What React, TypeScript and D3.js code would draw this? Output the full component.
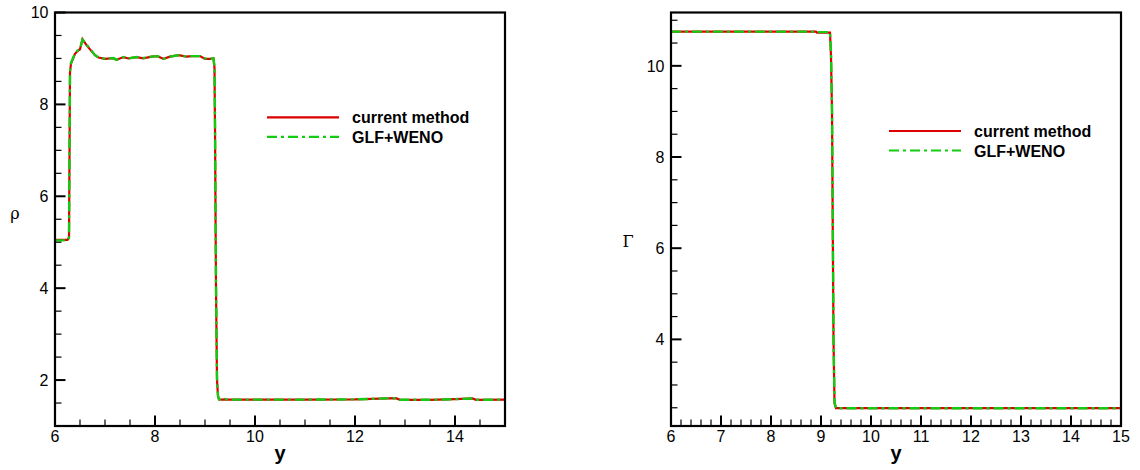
import React from "react";
import * as d3 from "d3";

// ---------- data ----------
const rhoX = [6.0, 6.25, 6.28, 6.3, 6.32, 6.4, 6.45, 6.5, 6.55, 6.63, 6.73, 6.8, 6.87, 7.0, 7.1, 7.17, 7.23, 7.37, 7.47, 7.63, 7.77, 7.93, 8.05, 8.17, 8.3, 8.47, 8.63, 8.73, 8.9, 9.0, 9.1, 9.17, 9.19, 9.2, 9.22, 9.24, 9.26, 9.28, 9.35, 9.4, 9.45, 10.0, 11.0, 12.0, 12.5, 12.82, 12.9, 13.5, 14.0, 14.35, 14.42, 15.0];
const rhoCurrent = [5.05, 5.05, 5.1, 8.7, 8.89, 9.1, 9.16, 9.2, 9.42, 9.29, 9.16, 9.07, 9.02, 8.99, 9.0, 9.0, 8.97, 9.03, 9.0, 9.03, 9.0, 9.04, 9.05, 8.99, 9.04, 9.07, 9.04, 9.05, 9.05, 8.99, 8.99, 9.0, 8.8, 7.5, 4.0, 2.0, 1.65, 1.58, 1.575, 1.58, 1.575, 1.575, 1.575, 1.58, 1.595, 1.605, 1.57, 1.57, 1.585, 1.6, 1.57, 1.575];
const rhoWeno = [5.04, 5.04, 5.1, 8.72, 8.9, 9.11, 9.17, 9.21, 9.41, 9.3, 9.17, 9.07, 9.02, 8.99, 9.0, 9.01, 8.97, 9.03, 9.0, 9.03, 9.01, 9.04, 9.05, 8.99, 9.04, 9.07, 9.04, 9.05, 9.05, 9.0, 8.99, 9.0, 8.82, 7.6, 4.1, 2.05, 1.66, 1.58, 1.57, 1.59, 1.575, 1.575, 1.575, 1.58, 1.595, 1.605, 1.57, 1.57, 1.585, 1.6, 1.57, 1.575];

const gammaX = [6.0, 7.0, 8.0, 8.9, 8.92, 9.18, 9.2, 9.22, 9.25, 9.27, 9.3, 10.0, 11.0, 12.0, 13.0, 14.0, 15.0];
const gammaCurrent = [10.75, 10.75, 10.75, 10.75, 10.73, 10.73, 10.2, 9.0, 4.0, 2.6, 2.49, 2.49, 2.49, 2.49, 2.49, 2.49, 2.49];
const gammaWeno = [10.75, 10.75, 10.75, 10.75, 10.74, 10.74, 10.3, 9.1, 4.1, 2.62, 2.49, 2.49, 2.49, 2.49, 2.49, 2.49, 2.49];

const seriesNames = ["current method", "GLF+WENO"];
const leftXTicks = [6, 8, 10, 12, 14];
const leftYTicks = [2, 4, 6, 8, 10];
const rightXTicks = [6, 7, 8, 9, 10, 11, 12, 13, 14, 15];
const rightYTicks = [4, 6, 8, 10];

const RED = "#dd0000";
const GREEN = "#11cc11";
const FONT = "'Liberation Sans', Arial, Helvetica, sans-serif";

type PanelProps = {
  x0: number;
  x1: number;
  yDomain: [number, number];
  xs: number[];
  a: number[];
  b: number[];
  xTicks: number[];
  xMinorStep: number;
  yTicks: number[];
  yMinorStep: number;
  yLabel: string;
  yLabelPos: [number, number];
  legendX: number;
  legendY: number;
};

function Panel(p: PanelProps) {
  const top = 12.5;
  const bottom = 426;
  const x = d3.scaleLinear().domain([6, 15]).range([p.x0, p.x1]);
  const y = d3.scaleLinear().domain(p.yDomain).range([bottom, top]);
  const line = d3
    .line<number>()
    .x((_, i) => x(p.xs[i]))
    .y((v) => y(v));

  const xMinor = d3.range(6, 15 + 1e-9, p.xMinorStep).filter(
    (v) => !p.xTicks.some((t) => Math.abs(t - v) < 1e-6)
  );
  const yStart = Math.ceil(p.yDomain[0] / p.yMinorStep) * p.yMinorStep;
  const yMinor = d3
    .range(yStart, p.yDomain[1] + 1e-9, p.yMinorStep)
    .filter((v) => !p.yTicks.some((t) => Math.abs(t - v) < 1e-6));

  return (
    <g>
      <path d={line(p.a) || ""} fill="none" stroke={RED} strokeWidth={2.2} />
      <path
        d={line(p.b) || ""}
        fill="none"
        stroke={GREEN}
        strokeWidth={2.4}
        strokeDasharray="10,4,3,4"
      />
      {/* minor ticks */}
      {xMinor.map((v) => (
        <line key={"xm" + v} x1={x(v)} x2={x(v)} y1={bottom} y2={bottom - 6.5} stroke="#000" strokeWidth={1.2} />
      ))}
      {yMinor.map((v) => (
        <line key={"ym" + v} x1={p.x0} x2={p.x0 + 6.5} y1={y(v)} y2={y(v)} stroke="#000" strokeWidth={1.2} />
      ))}
      {p.xTicks.map((v) => (
        <g key={"xt" + v}>
          <line x1={x(v)} x2={x(v)} y1={bottom} y2={bottom - 10.5} stroke="#000" strokeWidth={2} />
          <text x={x(v)} y={442} textAnchor="middle" fontFamily={FONT} fontSize={16}>
            {v}
          </text>
        </g>
      ))}
      {p.yTicks.map((v) => (
        <g key={"yt" + v}>
          <line x1={p.x0} x2={p.x0 + 10.5} y1={y(v)} y2={y(v)} stroke="#000" strokeWidth={2} />
          <text x={p.x0 - 6.5} y={y(v)} dy="0.36em" textAnchor="end" fontFamily={FONT} fontSize={16}>
            {v}
          </text>
        </g>
      ))}
      <rect
        x={p.x0}
        y={top}
        width={p.x1 - p.x0}
        height={bottom - top}
        fill="none"
        stroke="#000"
        strokeWidth={2.2}
      />
      <text
        x={(p.x0 + p.x1) / 2}
        y={460}
        textAnchor="middle"
        fontFamily={FONT}
        fontWeight="bold"
        fontSize={20}
      >
        y
      </text>
      <text
        x={p.yLabelPos[0]}
        y={p.yLabelPos[1]}
        textAnchor="middle"
        fontFamily="'DejaVu Serif', 'Liberation Serif', serif"
        fontSize={16}
      >
        {p.yLabel}
      </text>
      {/* legend */}
      <line x1={p.legendX} x2={p.legendX + 72} y1={p.legendY} y2={p.legendY} stroke={RED} strokeWidth={2.2} />
      <line
        x1={p.legendX}
        x2={p.legendX + 72}
        y1={p.legendY + 19.5}
        y2={p.legendY + 19.5}
        stroke={GREEN}
        strokeWidth={2.2}
        strokeDasharray="10,4,3,4"
      />
      <text x={p.legendX + 85} y={p.legendY + 6} fontFamily={FONT} fontWeight="bold" fontSize={16}>
        {seriesNames[0]}
      </text>
      <text x={p.legendX + 85} y={p.legendY + 25.5} fontFamily={FONT} fontWeight="bold" fontSize={16}>
        {seriesNames[1]}
      </text>
    </g>
  );
}

export default function App() {
  return (
    <svg
      width={1140}
      height={470}
      style={{ position: "absolute", left: 0, top: 0, background: "#fff" }}
    >
      <Panel
        x0={55}
        x1={505}
        yDomain={[1, 10]}
        xs={rhoX}
        a={rhoCurrent}
        b={rhoWeno}
        xTicks={leftXTicks}
        xMinorStep={0.5}
        yTicks={leftYTicks}
        yMinorStep={0.5}
        yLabel="ρ"
        yLabelPos={[15, 219]}
        legendX={267}
        legendY={117.3}
      />
      <Panel
        x0={671}
        x1={1121}
        yDomain={[2.1, 11.17]}
        xs={gammaX}
        a={gammaCurrent}
        b={gammaWeno}
        xTicks={rightXTicks}
        xMinorStep={0.2}
        yTicks={rightYTicks}
        yMinorStep={0.5}
        yLabel="Γ"
        yLabelPos={[628, 247]}
        legendX={889}
        legendY={131}
      />
    </svg>
  );
}
